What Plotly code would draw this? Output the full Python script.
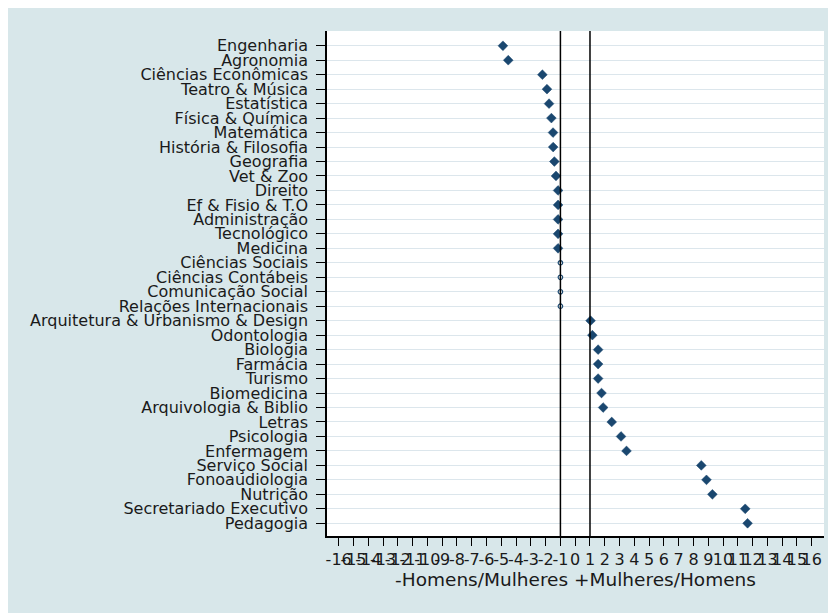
import plotly.graph_objects as go

# ---- data ----
categorias = [
    "Engenharia", "Agronomia", "Ciências Econômicas", "Teatro & Música",
    "Estatística", "Física & Química", "Matemática", "História & Filosofia",
    "Geografia", "Vet & Zoo", "Direito", "Ef & Fisio & T.O", "Administração",
    "Tecnológico", "Medicina", "Ciências Sociais", "Ciências Contábeis",
    "Comunicação Social", "Relações Internacionais",
    "Arquitetura & Urbanismo & Design", "Odontologia", "Biologia", "Farmácia",
    "Turismo", "Biomedicina", "Arquivologia & Biblio", "Letras", "Psicologia",
    "Enfermagem", "Serviço Social", "Fonoaudiologia", "Nutrição",
    "Secretariado Executivo", "Pedagogia",
]
razao = [
    -4.89, -4.53, -2.22, -1.91, -1.77, -1.61, -1.50, -1.49, -1.41, -1.30,
    -1.16, -1.16, -1.16, -1.16, -1.16, -1.0, -1.0, -1.0, -1.0,
    1.04, 1.16, 1.55, 1.55, 1.55, 1.78, 1.89, 2.47, 3.10, 3.47,
    8.53, 8.88, 9.28, 11.50, 11.66,
]
paridade = ["Ciências Sociais", "Ciências Contábeis", "Comunicação Social",
            "Relações Internacionais"]
x_ticks = list(range(-16, 17))
linhas_ref = [-1, 1]
titulo_x = "-Homens/Mulheres +Mulheres/Homens"

# ---- figure ----
W, H = 828, 605
L, R, T, B = 319, 12, 23, 77

navy = "#1a476f"
fig = go.Figure()

cat_d = [c for c in categorias if c not in paridade]
val_d = [v for c, v in zip(categorias, razao) if c not in paridade]
cat_o = [c for c in categorias if c in paridade]
val_o = [v for c, v in zip(categorias, razao) if c in paridade]

fig.add_trace(go.Scatter(
    x=val_d, y=cat_d, mode="markers",
    marker=dict(symbol="diamond", size=7.5, color=navy,
                line=dict(width=0.5, color=navy)),
    showlegend=False, hoverinfo="x+y",
))
fig.add_trace(go.Scatter(
    x=val_o, y=cat_o, mode="markers",
    marker=dict(symbol="circle-open", size=4.5, color=navy,
                line=dict(width=1.2, color=navy)),
    showlegend=False, hoverinfo="x+y",
))

for xv in linhas_ref:
    fig.add_shape(type="line", xref="x", yref="paper", x0=xv, x1=xv,
                  y0=0, y1=1, line=dict(color="black", width=1.5))

font_fam = "DejaVu Sans, Liberation Sans, Arial, sans-serif"
fig.update_layout(
    width=W, height=H,
    margin=dict(l=L, r=R, t=T, b=B, pad=0),
    paper_bgcolor="#d8e7ea",
    plot_bgcolor="white",
    font=dict(family=font_fam, color="#1a1a1a"),
    xaxis=dict(
        range=[-16.79, 16.83],
        tickmode="array", tickvals=x_ticks,
        ticktext=[str(v) for v in x_ticks],
        tickangle=0,
        tickfont=dict(size=16, color="#1a1a1a"),
        ticks="outside", ticklen=8, tickwidth=1.3, tickcolor="black",
        showline=True, linecolor="black", linewidth=1.5,
        showgrid=False, zeroline=False,
        title=dict(text=titulo_x, font=dict(size=18.5, color="#1a1a1a"),
                   standoff=0),
    ),
    yaxis=dict(
        type="category", categoryorder="array", categoryarray=categorias,
        tickmode="array", tickvals=categorias, ticktext=categorias,
        range=[33.88, -1.02],
        tickfont=dict(size=16, color="#1a1a1a"),
        ticks="outside", ticklen=9, tickwidth=1.3, tickcolor="black",
        ticklabelstandoff=5,
        showline=True, linecolor="black", linewidth=1.5,
        showgrid=True, gridcolor="#dce6ec", gridwidth=1,
        zeroline=False,
    ),
)

fig.write_html("out.html")
